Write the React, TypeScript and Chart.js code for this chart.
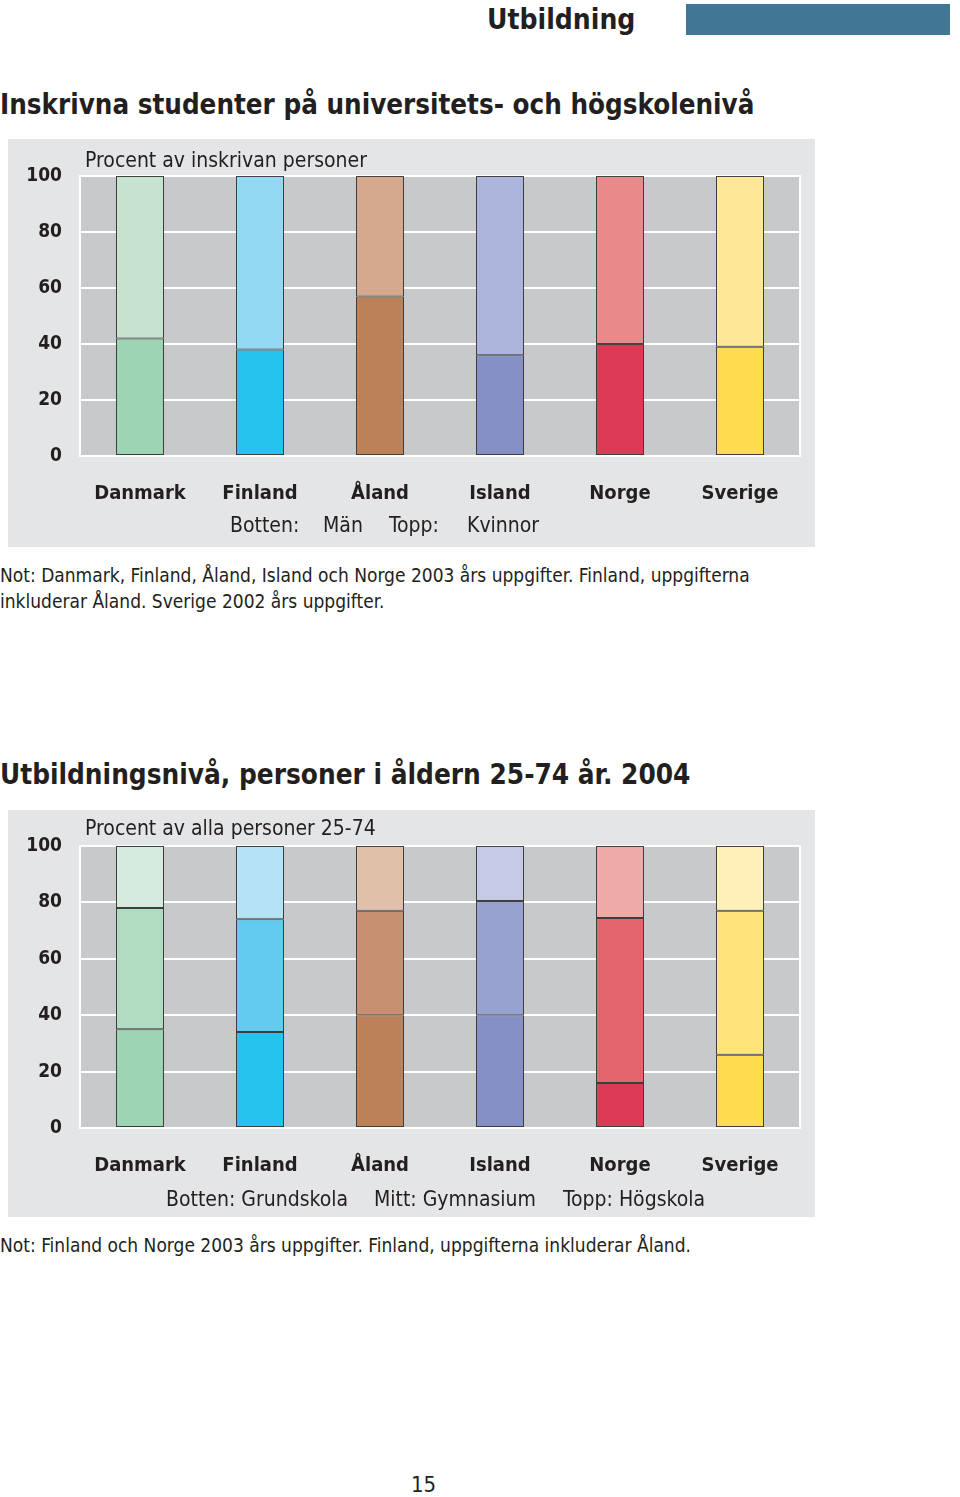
import React, { useEffect, useRef } from "react";
import { Chart, registerables } from "chart.js";
Chart.register(...registerables);

// ---------- data ----------
const categories = ["Danmark", "Finland", "Åland", "Island", "Norge", "Sverige"];
const yTickStep = 20;
const yMax = 100;

// Chart 1: share of enrolled students (Botten: Män, Topp: Kvinnor)
const menShare = [42, 38, 57, 36, 40, 39];
const womenShare = [58, 62, 43, 64, 60, 61];

// Chart 2: education level, persons 25-74
const grundskola = [35, 34, 40, 40, 16, 26];
const gymnasium = [43, 40, 37, 40.5, 58.5, 51];
const hogskola = [22, 26, 23, 19.5, 25.5, 23];

// ---------- styles ----------
const darkColors = ["#9dd4b1", "#27c3ef", "#bd8159", "#8591c6", "#dd3b55", "#fedc4d"];
const midColors = ["#b2dcc1", "#64cbf0", "#c79071", "#97a2d1", "#e3656e", "#fee47b"];
const topColors1 = ["#c5e3cf", "#93d9f3", "#d4a98e", "#adb5dd", "#e88a89", "#fee797"];
const topColors2 = ["#d5ebde", "#b5e3f5", "#dfc0a9", "#c6cae7", "#eeaaa8", "#fef0b8"];

const FONT = '"DejaVu Sans Condensed", "DejaVu Sans", sans-serif';
const INK = "#231f20";
const PANEL = "#e4e5e6";
const PLOT = "#c8c9cb";

type Series = { label: string; data: number[]; colors: string[] };

function StackedChart(props: { series: Series[]; width: number; height: number; top: number; bottom: number }) {
  const { series, width, height, top, bottom } = props;
  const ref = useRef<HTMLCanvasElement>(null);
  useEffect(() => {
    if (!ref.current) return;
    const plotBg = {
      id: "plotBg",
      beforeDraw(chart: any) {
        const { ctx, chartArea: a } = chart;
        ctx.save();
        ctx.fillStyle = PLOT;
        ctx.fillRect(a.left, a.top, a.right - a.left, a.bottom - a.top);
        ctx.restore();
      },
      beforeDatasetsDraw(chart: any) {
        const { ctx, chartArea: a } = chart;
        ctx.save();
        ctx.strokeStyle = "#ffffff";
        ctx.lineWidth = 2;
        ctx.strokeRect(a.left, a.top, a.right - a.left, a.bottom - a.top);
        ctx.restore();
      },
    };
    const chart = new Chart(ref.current, {
      type: "bar",
      data: {
        labels: categories,
        datasets: series.map((s) => ({
          label: s.label,
          data: s.data,
          backgroundColor: s.colors,
          borderColor: "rgba(45,45,45,0.9)",
          borderWidth: 1,
          borderSkipped: false,
          barPercentage: 0.4,
          categoryPercentage: 1,
        })),
      },
      options: {
        animation: false,
        responsive: false,
        maintainAspectRatio: false,
        layout: { padding: { top, right: 15, left: 0, bottom: 0 } },
        plugins: { legend: { display: false }, tooltip: { enabled: false } },
        scales: {
          x: {
            stacked: true,
            grid: { display: false },
            border: { display: false },
            ticks: { color: INK, padding: 18, font: { family: FONT, size: 20, weight: "bold" } },
            afterFit(s: any) {
              s.height = height - bottom;
            },
          },
          y: {
            stacked: true,
            min: 0,
            max: yMax,
            ticks: { stepSize: yTickStep, padding: 18, color: INK, font: { family: FONT, size: 19, weight: "bold" } },
            grid: { color: "#ffffff", lineWidth: 2, drawTicks: false },
            border: { display: false },
            afterFit(s: any) {
              s.width = 72;
            },
          },
        },
      } as any,
      plugins: [plotBg],
    });
    return () => chart.destroy();
  }, []);
  return <canvas ref={ref} width={width} height={height} style={{ position: "absolute", left: 0, top: 0, width, height }} />;
}

function Txt(props: { x: number; cy: number; size: number; bold?: boolean; children: React.ReactNode }) {
  const lh = Math.round(props.size * 1.3);
  return (
    <div
      style={{
        position: "absolute",
        left: props.x,
        top: props.cy - lh / 2,
        fontSize: props.size,
        lineHeight: lh + "px",
        fontWeight: props.bold ? "bold" : "normal",
        whiteSpace: "nowrap",
        color: INK,
        fontFamily: FONT,
      }}
    >
      {props.children}
    </div>
  );
}

export default function App() {
  const s1: Series[] = [
    { label: "Män", data: menShare, colors: darkColors },
    { label: "Kvinnor", data: womenShare, colors: topColors1 },
  ];
  const s2: Series[] = [
    { label: "Grundskola", data: grundskola, colors: darkColors },
    { label: "Gymnasium", data: gymnasium, colors: midColors },
    { label: "Högskola", data: hogskola, colors: topColors2 },
  ];
  return (
    <div style={{ position: "absolute", left: 0, top: 0, width: 960, height: 1497, background: "#fff", overflow: "hidden", fontFamily: FONT }}>
      <Txt x={487} cy={20} size={28} bold>Utbildning</Txt>
      <div style={{ position: "absolute", left: 686, top: 4, width: 264, height: 31, background: "#417795" }} />

      <Txt x={0} cy={104} size={27.5} bold>Inskrivna studenter på universitets- och högskolenivå</Txt>

      <div style={{ position: "absolute", left: 8, top: 139, width: 807, height: 408, background: PANEL }}>
        <StackedChart series={s1} width={807} height={408} top={37} bottom={317} />
        <Txt x={77} cy={21} size={21}>Procent av inskrivan personer</Txt>
        <Txt x={222} cy={386} size={21}>Botten:</Txt>
        <Txt x={315} cy={386} size={21}>Män</Txt>
        <Txt x={381} cy={386} size={21}>Topp:</Txt>
        <Txt x={459} cy={386} size={21}>Kvinnor</Txt>
      </div>

      <Txt x={0} cy={575} size={19}>Not: Danmark, Finland, Åland, Island och Norge 2003 års uppgifter. Finland, uppgifterna</Txt>
      <Txt x={0} cy={601} size={19}>inkluderar Åland. Sverige 2002 års uppgifter.</Txt>

      <Txt x={0} cy={775} size={27.7} bold>Utbildningsnivå, personer i åldern 25-74 år. 2004</Txt>

      <div style={{ position: "absolute", left: 8, top: 810, width: 807, height: 407, background: PANEL }}>
        <StackedChart series={s2} width={807} height={407} top={36} bottom={318} />
        <Txt x={77} cy={18} size={21}>Procent av alla personer 25-74</Txt>
        <Txt x={158} cy={389} size={21}>Botten: Grundskola</Txt>
        <Txt x={366} cy={389} size={21}>Mitt: Gymnasium</Txt>
        <Txt x={555} cy={389} size={21}>Topp: Högskola</Txt>
      </div>

      <Txt x={0} cy={1245} size={19}>Not: Finland och Norge 2003 års uppgifter. Finland, uppgifterna inkluderar Åland.</Txt>

      <Txt x={411} cy={1484} size={22}>15</Txt>
    </div>
  );
}
